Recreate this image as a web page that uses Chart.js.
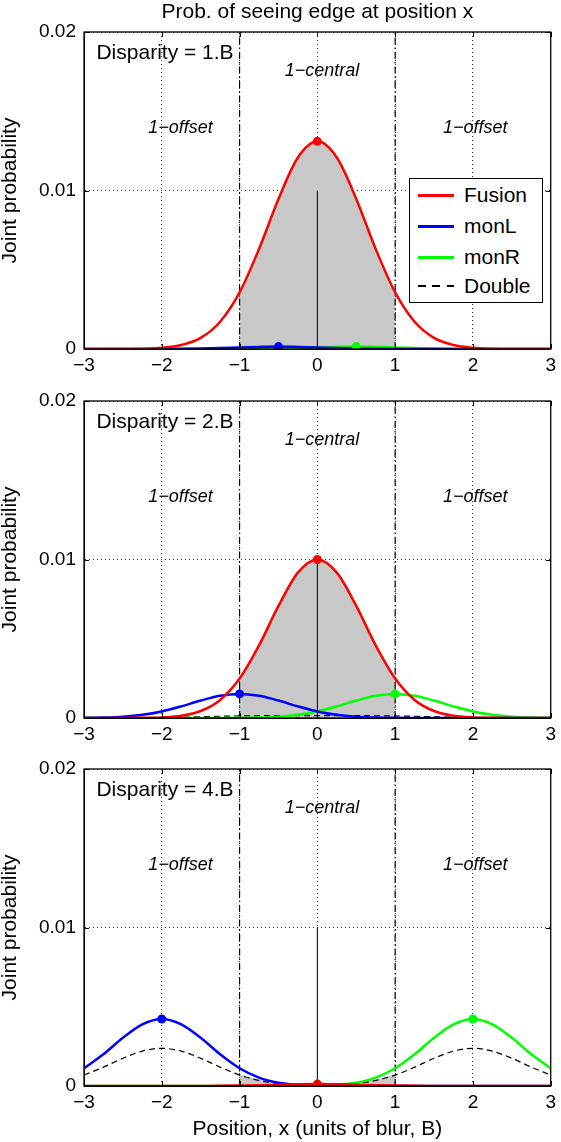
<!DOCTYPE html>
<html>
<head>
<meta charset="utf-8">
<script src="https://cdn.jsdelivr.net/npm/chart.js@4/dist/chart.umd.min.js"></script>
<style>
  body { margin: 0; background: #fff; width: 561px; height: 1142px; position: relative; overflow: hidden;
         font-family: 'Liberation Sans', Arial, Helvetica, sans-serif; }
  canvas { position: absolute; left: 0; }
  #c1 { top: 0; }
  #c2 { top: 369px; }
  #c3 { top: 737px; }
  #legend { position: absolute; left: 409px; top: 178px; width: 132px; height: 123px;
            border: 1px solid #000; background: #fff; z-index: 5; }
  #legend .row { position: absolute; left: 0; height: 30px; line-height: 30px; font-size: 21px; }
  #legend .sw { position: absolute; left: 8px; top: 14px; width: 36px; height: 2.5px; }
  #legend .txt { position: absolute; left: 54px; top: 0; white-space: nowrap; }
</style>
</head>
<body>
<canvas id="c1" width="561" height="380"></canvas>
<canvas id="c2" width="561" height="380"></canvas>
<canvas id="c3" width="561" height="405"></canvas>
<div id="legend">
  <div class="row" style="top:1px"><span class="sw" style="background:#ff0000"></span><span class="txt">Fusion</span></div>
  <div class="row" style="top:32px"><span class="sw" style="background:#0000ff"></span><span class="txt">monL</span></div>
  <div class="row" style="top:63px"><span class="sw" style="background:#00ff00"></span><span class="txt">monR</span></div>
  <div class="row" style="top:92px"><span class="sw" style="height:1.5px;background:repeating-linear-gradient(to right,#000 0 8px,transparent 8px 14.5px)"></span><span class="txt">Double</span></div>
</div>
<script>
// x positions (units of blur, B)
const xs = [-3,-2.75,-2.5,-2.25,-2,-1.75,-1.5,-1.25,-1,-0.75,-0.5,-0.25,0,0.25,0.5,0.75,1,1.25,1.5,1.75,2,2.25,2.5,2.75,3];
const xsShade = [-1,-0.75,-0.5,-0.25,0,0.25,0.5,0.75,1];
const xTicks = [-3,-2,-1,0,1,2,3];
const yTicks = [0,0.01,0.02];
const regionEdges = [-1, 1];
const centerLine = [0, 0.01];

// Disparity = 1.B
const fusion1 = [0,0,0.000004,0.000018,0.000073,0.00025,0.0007,0.00172,0.00357,0.00631,0.00947,0.01208,0.0131,0.01208,0.00947,0.00631,0.00357,0.00172,0.0007,0.00025,0.000073,0.000018,0.000004,0,0];
const monL1 = [0,0,0,0.000001,0.000004,0.000012,0.00003,0.00006,0.0001,0.00013,0.00015,0.00013,0.0001,0.00006,0.00003,0.000012,0.000004,0.000001,0,0,0,0,0,0,0];
const monR1 = [0,0,0,0,0,0,0,0.000001,0.000004,0.000012,0.00003,0.00006,0.0001,0.00013,0.00015,0.00013,0.0001,0.00006,0.00003,0.000012,0.000004,0.000001,0,0,0];
const double1 = [0,0,0,0,0,0,0.000002,0.000005,0.000008,0.00001,0.000012,0.000013,0.000013,0.000013,0.000012,0.00001,0.000008,0.000005,0.000002,0,0,0,0,0,0];
const shade1 = [0.00357,0.00631,0.00947,0.01208,0.0131,0.01208,0.00947,0.00631,0.00357];
const markX1 = [0,-0.5,0.5];
const markY1 = [0.0131,0.00015,0.00015];

// Disparity = 2.B
const fusion2 = [0,0,0.000001,0.000009,0.000039,0.000142,0.00044,0.00114,0.00249,0.00458,0.00707,0.00917,0.01,0.00917,0.00707,0.00458,0.00249,0.00114,0.00044,0.000142,0.000039,0.000009,0.000001,0,0];
const monL2 = [0.0000084,0.0000285,0.000082,0.0002,0.000415,0.000733,0.0011,0.0014,0.00152,0.0014,0.0011,0.000733,0.000415,0.0002,0.000082,0.0000285,0.0000084,0.000002,0,0,0,0,0,0,0];
const monR2 = [0,0,0,0,0,0,0,0.000002,0.0000084,0.0000285,0.000082,0.0002,0.000415,0.000733,0.0011,0.0014,0.00152,0.0014,0.0011,0.000733,0.000415,0.0002,0.000082,0.0000285,0.0000084];
const double2 = [0,0.000002,0.000006,0.000015,0.00003,0.00005,0.00008,0.00011,0.00013,0.00014,0.00015,0.00015,0.00015,0.00015,0.00015,0.00014,0.00013,0.00011,0.00008,0.00005,0.00003,0.000015,0.000006,0.000002,0];
const shade2 = [0.00249,0.00458,0.00707,0.00917,0.01,0.00917,0.00707,0.00458,0.00249];
const markX2 = [0,-1,1];
const markY2 = [0.01,0.00152,0.00152];

// Disparity = 4.B
const fusion3 = [0,0,0,0,0,0,0.000005,0.000012,0.00003,0.00005,0.00008,0.00011,0.00012,0.00011,0.00008,0.00005,0.00003,0.000012,0.000005,0,0,0,0,0,0];
const monL3 = [0.00112,0.002,0.00304,0.00389,0.00423,0.00389,0.00304,0.002,0.00112,0.00053,0.00021,0.000072,0.000021,0.000005,0.000001,0,0,0,0,0,0,0,0,0,0];
const monR3 = [0,0,0,0,0,0,0,0,0,0,0.000001,0.000005,0.000021,0.000072,0.00021,0.00053,0.00112,0.002,0.00304,0.00389,0.00423,0.00389,0.00304,0.002,0.00112];
const double3 = [0.00069,0.00119,0.00175,0.0022,0.00238,0.0022,0.00175,0.00119,0.00069,0.00035,0.00015,0.00006,0.000034,0.00006,0.00015,0.00035,0.00069,0.00119,0.00175,0.0022,0.00238,0.0022,0.00175,0.00119,0.00069];
const shade3 = [0.00072,0.0004,0.00023,0.00017,0.00015,0.00017,0.00023,0.0004,0.00072];
const markX3 = [0,-2,2];
const markY3 = [0.00012,0.00423,0.00423];

const FONT = "'Liberation Sans', Arial, Helvetica, sans-serif";
Chart.defaults.font.family = FONT;
Chart.defaults.color = '#000';

const pts = (x, y) => x.map((v, i) => ({x: v, y: y[i]}));
const minus = v => (v < 0 ? '\u2212' + Math.abs(v) : String(v));

// frame, inward ticks and the text labels inside the axes
const decor = {
  id: 'decor',
  afterDatasetsDraw(chart, args, opts) {
    const {ctx, chartArea: a, scales: {x, y}} = chart;
    ctx.save();
    ctx.strokeStyle = '#000';
    ctx.lineWidth = 1;
    ctx.beginPath();
    xTicks.forEach(v => {
      const px = Math.round(x.getPixelForValue(v)) + 0.5;
      ctx.moveTo(px, a.bottom); ctx.lineTo(px, a.bottom - 5);
      ctx.moveTo(px, a.top); ctx.lineTo(px, a.top + 5);
    });
    yTicks.forEach(v => {
      const py = Math.round(y.getPixelForValue(v)) + 0.5;
      ctx.moveTo(a.left, py); ctx.lineTo(a.left + 5, py);
      ctx.moveTo(a.right, py); ctx.lineTo(a.right - 5, py);
    });
    ctx.stroke();
    ctx.lineWidth = 1.3;
    ctx.strokeRect(a.left, a.top, a.right - a.left, a.bottom - a.top);

    ctx.fillStyle = '#000';
    ctx.textBaseline = 'middle';
    ctx.font = '21px ' + FONT;
    ctx.textAlign = 'left';
    ctx.fillText(opts.title, x.getPixelForValue(-2.84), y.getPixelForValue(0.01868));
    ctx.font = 'italic 18px ' + FONT;
    ctx.textAlign = 'center';
    ctx.fillText('1\u2212central', x.getPixelForValue(0.06), y.getPixelForValue(0.01754));
    ctx.fillText('1\u2212offset', x.getPixelForValue(-1.76), y.getPixelForValue(0.01394));
    ctx.fillText('1\u2212offset', x.getPixelForValue(2.03), y.getPixelForValue(0.01394));
    ctx.restore();
  }
};

function makePanel(id, p) {
  const curve = (label, data, color, order, extra) => Object.assign({
    label, data: pts(xs, data), borderColor: color, borderWidth: 2.5, showLine: true,
    pointRadius: 0, fill: false, cubicInterpolationMode: 'monotone', order
  }, extra || {});
  const vline = (xv, y0, y1, extra, order) => Object.assign({
    data: [{x: xv, y: y0}, {x: xv, y: y1}], borderColor: '#000', borderWidth: 1,
    showLine: true, pointRadius: 0, fill: false, order
  }, extra);
  const marks = p.markX.map((xv, i) => ({
    data: [{x: xv, y: p.markY[i]}], pointRadius: 4.5, pointBorderWidth: 0,
    pointBackgroundColor: ['#ff0000', '#0000ff', '#00ff00'][i], showLine: false, order: 0
  }));

  const datasets = [
    {data: pts(xsShade, p.shade), showLine: true, borderWidth: 0, borderColor: 'rgba(0,0,0,0)',
     backgroundColor: '#c8c8c8', fill: 'origin', pointRadius: 0, cubicInterpolationMode: 'monotone', order: 20},
    vline(regionEdges[0], 0, 0.02, {borderWidth: 1.2, borderDash: [7, 3, 1.5, 3]}, 19),
    vline(regionEdges[1], 0, 0.02, {borderWidth: 1.2, borderDash: [7, 3, 1.5, 3]}, 19),
    vline(0, centerLine[0], centerLine[1], {}, 18),
    curve('Double', p.double, '#000', 4, {borderWidth: 1.2, borderDash: [6, 4]}),
    curve('monR', p.monR, '#00ff00', 3),
    curve('monL', p.monL, '#0000ff', 2),
    curve('Fusion', p.fusion, '#ff0000', 1),
    ...marks
  ];

  return new Chart(document.getElementById(id), {
    type: 'scatter',
    data: {datasets},
    plugins: [decor],
    options: {
      responsive: false,
      animation: false,
      layout: {padding: {top: p.mainTitle ? 0 : 32, right: 7, bottom: 0, left: 0}},
      plugins: {
        legend: {display: false},
        tooltip: {enabled: false},
        title: {
          display: !!p.mainTitle, text: p.mainTitle || '', fullSize: false,
          font: {size: 21, weight: 'normal', lineHeight: 1.2}, color: '#000',
          padding: {top: 0, bottom: 6.8}
        },
        decor: {title: p.title}
      },
      scales: {
        x: {
          type: 'linear', min: -3, max: 3,
          afterFit: s => { s.height = p.xTitle ? 56 : 31; },
          ticks: {stepSize: 1, padding: 5, font: {size: 19}, color: '#000', callback: v => minus(v)},
          grid: {color: '#333', lineWidth: 1, drawTicks: false},
          border: {display: true, color: '#000', width: 1, dash: [1, 3]},
          title: {display: !!p.xTitle, text: p.xTitle || '', font: {size: 21}, color: '#000', padding: 0}
        },
        y: {
          type: 'linear', min: 0, max: 0.02,
          afterFit: s => { s.width = 84; },
          ticks: {stepSize: 0.01, padding: 8, font: {size: 19}, color: '#000',
                  callback: v => (Math.abs(v) < 1e-9 ? '0' : v.toFixed(2))},
          grid: {color: '#333', lineWidth: 1, drawTicks: false},
          border: {display: true, color: '#000', width: 1, dash: [1, 3]},
          title: {display: true, text: 'Joint probability', font: {size: 21, lineHeight: 1.0}, color: '#000', padding: 0}
        }
      }
    }
  });
}

makePanel('c1', {mainTitle: 'Prob. of seeing edge at position x', title: 'Disparity = 1.B',
  fusion: fusion1, monL: monL1, monR: monR1, double: double1, shade: shade1, markX: markX1, markY: markY1});
makePanel('c2', {title: 'Disparity = 2.B',
  fusion: fusion2, monL: monL2, monR: monR2, double: double2, shade: shade2, markX: markX2, markY: markY2});
makePanel('c3', {title: 'Disparity = 4.B', xTitle: 'Position, x (units of blur, B)',
  fusion: fusion3, monL: monL3, monR: monR3, double: double3, shade: shade3, markX: markX3, markY: markY3});
</script>
</body>
</html>
